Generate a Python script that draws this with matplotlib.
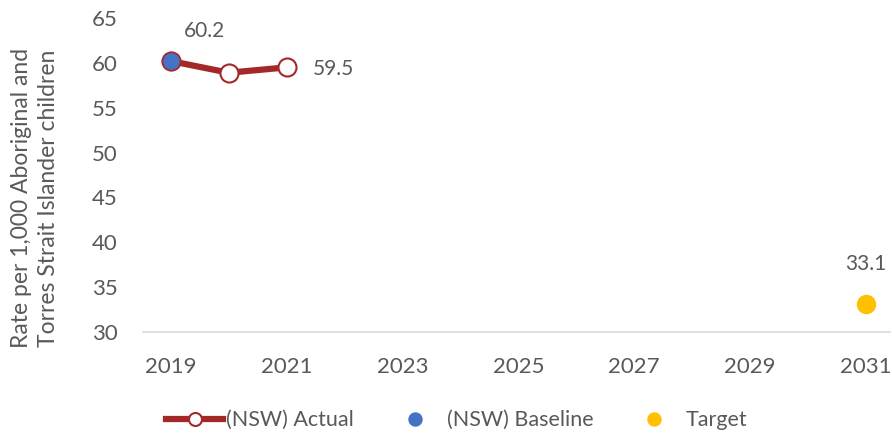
import matplotlib
matplotlib.use("Agg")
import matplotlib.pyplot as plt

# data
actual_years = [2019, 2020, 2021]
actual_rate = [60.2, 58.9, 59.5]
baseline_year = [2019]
baseline_rate = [60.2]
target_year = [2031]
target_rate = [33.1]
x_ticks = [2019, 2021, 2023, 2025, 2027, 2029, 2031]
y_ticks = [30, 35, 40, 45, 50, 55, 60, 65]

TEXT = '#595959'
RED = '#A52829'
BLUE = '#4472C4'
GOLD = '#FFC000'

plt.rcParams['font.family'] = ['Lato', 'DejaVu Sans']

fig = plt.figure(figsize=(8.92, 4.34), dpi=100)
ax = fig.add_axes([0.1603, 0.235, 0.837, 0.7235])

ax.plot(actual_years, actual_rate, color=RED, linewidth=4.5, marker='o',
        markersize=13, markerfacecolor='white', markeredgecolor=RED,
        markeredgewidth=1.5, label='(NSW) Actual', zorder=3)
ax.plot(baseline_year, baseline_rate, linestyle='none', marker='o',
        markersize=13, markerfacecolor=BLUE, markeredgecolor=RED,
        markeredgewidth=1.0, label='(NSW) Baseline', zorder=4)
ax.plot(target_year, target_rate, linestyle='none', marker='o',
        markersize=13, markerfacecolor=GOLD, markeredgecolor=GOLD,
        label='Target', zorder=4)

# data labels
ax.annotate(f'{actual_rate[0]:.1f}', (actual_years[0], actual_rate[0]),
            xytext=(24, 22), textcoords='offset points', ha='center',
            va='center', fontsize=15, color=TEXT)
ax.annotate(f'{actual_rate[-1]:.1f}', (actual_years[-1], actual_rate[-1]),
            xytext=(19, -1.5), textcoords='offset points', ha='left',
            va='center', fontsize=15, color=TEXT)
ax.annotate(f'{target_rate[0]:.1f}', (target_year[0], target_rate[0]),
            xytext=(0, 29), textcoords='offset points', ha='center',
            va='center', fontsize=15, color=TEXT)

ax.set_xlim(2018.52, 2031.41)
ax.set_ylim(30, 65)
ax.set_xticks(x_ticks)
ax.set_yticks(y_ticks)
ax.tick_params(axis='both', length=0, labelsize=16, colors=TEXT)
ax.tick_params(axis='x', pad=18)
ax.tick_params(axis='y', pad=18)

for side in ['top', 'right', 'left']:
    ax.spines[side].set_visible(False)
ax.spines['bottom'].set_color('#D9D9D9')
ax.spines['bottom'].set_linewidth(1.2)

fig.text(35 / 892, 1 - 198 / 434,
         'Rate per 1,000 Aboriginal and\nTorres Strait Islander children',
         rotation=90, ha='center', va='center', fontsize=16.5, color=TEXT,
         linespacing=1.35)

leg = fig.legend(loc='center', bbox_to_anchor=(0.512, 0.032), ncol=3,
                 frameon=False, fontsize=15.5, handlelength=2.65,
                 columnspacing=1.5, handletextpad=0.15, markerscale=0.72,
                 borderaxespad=0)
for t in leg.get_texts():
    t.set_color(TEXT)
leg.legend_handles[1].set_markeredgecolor(BLUE)

fig.savefig('out.png', dpi=100)
